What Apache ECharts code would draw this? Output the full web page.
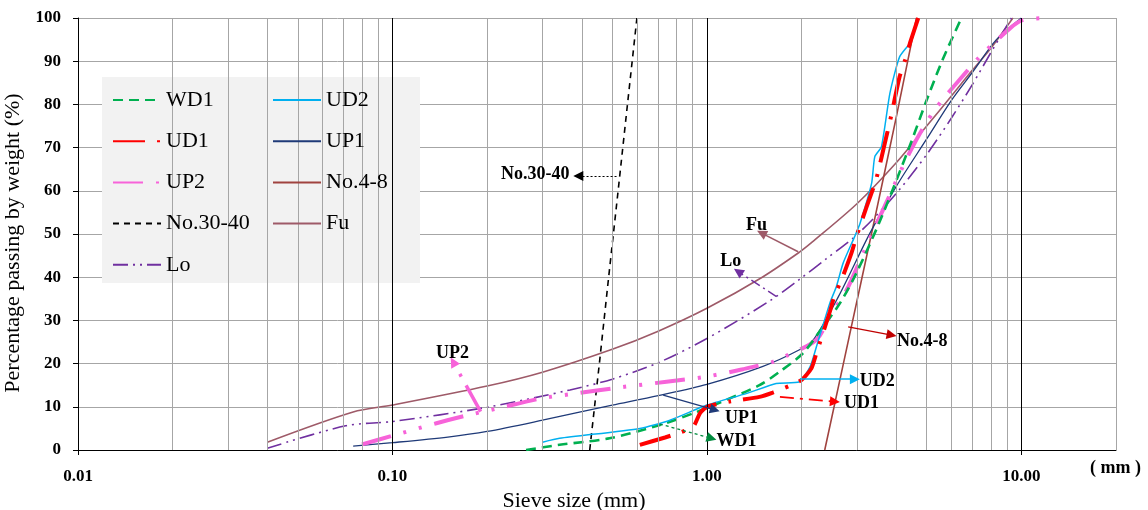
<!DOCTYPE html>
<html><head><meta charset="utf-8">
<script src="https://cdn.jsdelivr.net/npm/echarts@6/dist/echarts.min.js"></script>
<style>html,body{margin:0;padding:0;background:#fff}#c{width:1148px;height:510px}</style>
</head><body><div id="c"></div>
<script>
// ---- data: [sieve size (mm), percentage passing (%)] ----
const WD1 = [[0.266,0],[0.34,1.2],[0.49,2.7],[0.709,5.8],[0.905,8.5],[1.1,11.0],[1.47,15.0],[1.71,18.2],[2.02,22.4],[2.34,28.5],[2.65,34],[2.99,41],[3.55,53],[4.37,69.5],[5.0,81],[5.63,90.5],[6.45,100]];
const UD2 = [[0.30,1.8],[0.34,2.7],[0.612,5.0],[0.763,6.9],[1.0,10.4],[1.34,13.1],[1.66,15.4],[1.97,15.8],[2.13,19.3],[2.23,23.9],[2.46,34],[2.58,37.8],[2.71,43.2],[2.95,49.4],[3.07,52.5],[3.34,61.7],[3.42,67.9],[3.59,70.2],[3.82,82.6],[4.1,91],[4.45,94.5],[4.7,100]];
const UD1 = [[0.612,1.2],[0.736,2.9],[0.81,3.9],[0.905,5.4],[0.95,8.5],[1.0,10],[1.18,11.2],[1.47,12.3],[1.62,13.3],[1.84,14.9],[2.0,16.2],[2.15,18.9],[2.23,22.4],[2.46,32],[2.55,35.9],[2.68,39.4],[2.88,45.5],[2.99,49.4],[3.22,56.3],[3.45,62.5],[3.72,72.5],[3.83,76.4],[4.1,86.4],[4.27,90.3],[4.42,94.1],[4.7,100]];
const UP1 = [[0.075,0.9],[0.1,1.7],[0.15,3.0],[0.2,4.3],[0.3,6.9],[0.4,8.9],[0.5,10.4],[0.7,12.6],[1.0,15.2],[1.5,19.3],[1.97,23.2],[2.18,25.5],[2.62,35.5],[3.3,50.2],[4.0,61],[5.0,72],[6.0,81],[7.0,87.5],[8.33,95],[10,100]];
const UP2 = [[0.08,1.3],[0.1,3.3],[0.138,6.2],[0.17,7.9],[0.215,9.6],[0.3,12],[0.376,13.0],[0.53,14.5],[0.744,15.8],[1.0,17],[1.3,18.7],[1.62,20.4],[1.79,21.8],[2.23,25.5],[2.46,30.9],[2.78,37],[3.14,45.5],[3.68,56.5],[4.48,69.8],[5.3,78.7],[6.7,87.6],[7.37,91],[9.2,97.6],[10.1,99.5],[12.5,100]];
const NO4_8 = [[2.37,0],[2.85,27],[3.36,51],[4.0,77],[4.64,100]];
const NO30_40 = [[0.424,0],[0.455,20],[0.487,40],[0.522,60],[0.559,80],[0.599,100]];
const FU = [[0.04,1.8],[0.075,8.8],[0.1,10.4],[0.2,14.8],[0.3,18.0],[0.5,23.3],[0.7,27.5],[1.0,32.8],[1.5,40.0],[1.97,45.8],[2.16,48.1],[3,57],[4,66.5],[5,75],[6,82],[7,88],[8,93],[9.4,100]];
const LO = [[0.04,0.4],[0.071,5.6],[0.1,6.6],[0.2,9.9],[0.367,13.9],[0.5,16.4],[0.7,20.2],[1.0,25.8],[1.59,34.6],[1.97,39.5],[2.4,44.3],[2.9,48.9],[3.38,53.5],[4.11,60.4],[5,68.4],[6,76.9],[7,84.7],[8,92],[9.3,100]];

const xTickValues = [0.01, 0.1, 1, 10];
const xMajorLines = [0.1, 1, 10];
const xMinorLines = [0.02,0.03,0.04,0.05,0.06,0.07,0.08,0.09,0.2,0.3,0.4,0.5,0.6,0.7,0.8,0.9,2,3,4,5,6,7,8,9,20];
const legendCol1 = ['WD1','UD1','UP2','No.30-40','Lo'];
const legendCol2 = ['UD2','UP1','No.4-8','Fu'];

// annotations: arrow from -> to, label centre (data units)
const annotations = [
  {name:'No.30-40', from:[0.516,63.4], to:[0.39,63.4], label:[0.2844,63.7]},
  {name:'Fu', from:[1.951,45.9], to:[1.492,50.2], label:[1.439,52.1]},
  {name:'Lo', from:[1.665,35.5], to:[1.257,41.3], label:[1.19,43.75]},
  {name:'No.4-8', from:[2.814,28.5], to:[3.867,26.6], label:[4.844,25.1]},
  {name:'UD2', from:[1.976,16.4], to:[2.955,16.4], label:[3.484,15.8]},
  {name:'UD1', from:[1.707,12.3], to:[2.553,11.2], label:[3.104,10.8]},
  {name:'UP1', from:[0.726,12.7], to:[1.06,9.3], label:[1.289,7.3]},
  {name:'WD1', from:[0.709,6.0], to:[1.035,2.7], label:[1.243,1.9]},
  {name:'UP2', from:[0.1907,8.9], to:[0.156,20.4], label:[0.1553,22.4]}
];

const FONT = '"Liberation Serif","Times New Roman",serif';
const C = {WD1:'#00b050', UD2:'#00b0f0', UD1:'#ff0000', UP1:'#1f3a78', UP2:'#f763d9', 'No.4-8':'#a0433f', 'No.30-40':'#000000', Fu:'#9e5a68', Lo:'#7030a0'};
const annotStyle = {
  'No.30-40': {color:'#000', width:1, type:[2,2]},
  'Fu': {color:C.Fu, width:1.5, type:'solid'},
  'Lo': {color:C.Lo, width:1.5, type:[10,4,2,4]},
  'No.4-8': {color:'#c00000', width:1.3, type:'solid'},
  'UD2': {color:C.UD2, width:1.5, type:'solid'},
  'UD1': {color:C.UD1, width:1.8, type:[14,6,3,6]},
  'UP1': {color:C.UP1, width:1.3, type:'solid'},
  'WD1': {color:'#008a3e', width:1.3, type:[3,3]},
  'UP2': {color:C.UP2, width:3.5, type:[30,10,3,10]}
};

function mk(name, data, width, type, smooth) {
  return {
    name, type:'line', data, symbol:'none', smooth: smooth === undefined ? 0.3 : smooth, z:2,
    lineStyle:{color:C[name], width, type, cap:'butt'}, itemStyle:{color:C[name]},
    emphasis:{disabled:true}, animation:false
  };
}

const legendBase = {orient:'vertical', top:89, padding:0, itemWidth:48, itemHeight:14, itemGap:19.2, selectedMode:false,
  itemStyle:{opacity:0}, textStyle:{fontFamily:FONT, fontSize:22, color:'#000', lineHeight:22}, z:6};

const chart = echarts.init(document.getElementById('c'), null, {renderer:'canvas'});
const option = {
  backgroundColor:'#fff',
  animation:false,
  grid:{left:78, right:32, top:18, bottom:60, containLabel:false, outerBoundsMode:'none'},
  xAxis:{
    type:'log', logBase:10, min:0.01, max:20,
    name:'Sieve size (mm)', nameLocation:'middle', nameGap:40,
    nameTextStyle:{fontFamily:FONT, fontSize:22, color:'#000', padding:[0,46,0,0]},
    axisLine:{show:true, onZero:false, lineStyle:{color:'#000', width:1}},
    axisTick:{show:true, length:5, inside:false, customValues:xTickValues, lineStyle:{color:'#000'}},
    axisLabel:{customValues:xTickValues, margin:18, fontFamily:FONT, fontSize:17, fontWeight:'bold', color:'#000',
      formatter: v => Number(v).toFixed(2)},
    splitLine:{show:false}, minorTick:{show:false}, minorSplitLine:{show:false}
  },
  yAxis:{
    type:'value', min:0, max:100, interval:10,
    name:'Percentage passing by weight (%)', nameLocation:'middle', nameGap:39, nameRotate:90,
    nameTextStyle:{fontFamily:FONT, fontSize:22, color:'#000', padding:[0,18,0,0]},
    axisLine:{show:true, lineStyle:{color:'#000', width:1}},
    axisTick:{show:true, length:5, inside:false, lineStyle:{color:'#000'}},
    axisLabel:{margin:17, fontFamily:FONT, fontSize:17, fontWeight:'bold', color:'#000'},
    splitLine:{show:true, lineStyle:{color:'#a6a6a6', width:1}}
  },
  legend:[
    Object.assign({data:legendCol1, left:112}, legendBase),
    Object.assign({data:legendCol2, left:272}, legendBase)
  ],
  graphic:[
    {type:'rect', left:102, top:77, z:5, silent:true, shape:{width:318, height:206}, style:{fill:'#f2f2f2'}},
    {type:'text', left:1090, top:459, z:5, silent:true, style:{text:'( mm )', font:'bold 18px ' + FONT, fill:'#000'}}
  ],
  series:[
    {
      name:'_grid', type:'line', data:[], silent:true, z:1,
      markLine:{silent:true, symbol:['none','none'], label:{show:false}, animation:false,
        data:[].concat(
          xMinorLines.map(v => ({xAxis:v, lineStyle:{color:'#a6a6a6', width:1, type:'solid'}})),
          xMajorLines.map(v => ({xAxis:v, lineStyle:{color:'#000', width:1, type:'solid'}}))
        )}
    },
    mk('No.30-40', NO30_40, 1.6, [6,5], false),
    mk('Fu', FU, 1.6, 'solid'),
    mk('Lo', LO, 1.6, [15,5,2,5,2,5]),
    mk('No.4-8', NO4_8, 1.6, 'solid', 0.2),
    mk('UP1', UP1, 1.3, 'solid'),
    mk('UP2', UP2, 4, [30,13,3,13,3,13]),
    mk('WD1', WD1, 2.6, [10,6]),
    mk('UD2', UD2, 1.5, 'solid', 0.2),
    mk('UD1', UD1, 4, [32,12,3,12], 0.2),
    {
      name:'_annot', type:'line', data:[], silent:true, z:8,
      markLine:{silent:true, symbol:['none','triangle'], symbolSize:10, label:{show:false}, animation:false,
        data: annotations.map(a => [
          {coord:a.from, lineStyle:annotStyle[a.name], itemStyle:{color:annotStyle[a.name].color}},
          {coord:a.to}
        ])},
      markPoint:{silent:true, symbol:'circle', symbolSize:1, itemStyle:{color:'rgba(0,0,0,0)'}, animation:false,
        label:{show:true, position:'inside', formatter: p => p.name, color:'#000', fontWeight:'bold', fontSize:18, fontFamily:FONT},
        data: annotations.map(a => ({name:a.name, coord:a.label}))}
    }
  ]
};
chart.setOption(option);
</script></body></html>
